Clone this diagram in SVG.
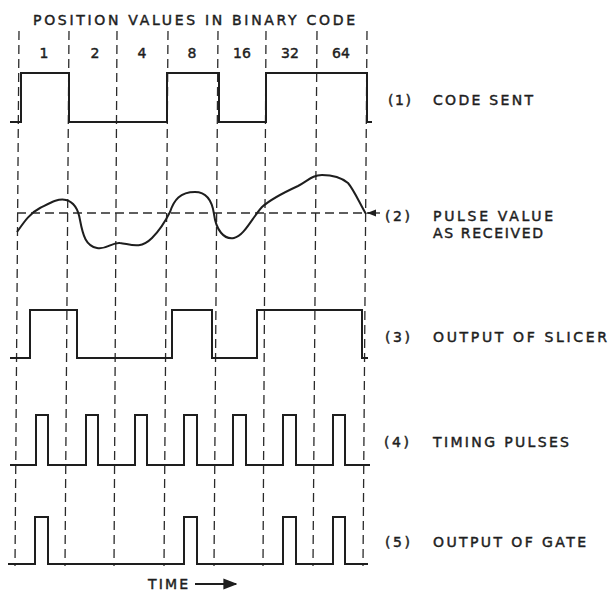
<svg xmlns="http://www.w3.org/2000/svg" width="609" height="591" viewBox="0 0 609 591">
<defs>
<style>
.grid{stroke:#2a2a2a;stroke-width:1.3;stroke-dasharray:9 5;fill:none}
.sig{stroke:#1e1e1e;stroke-width:2;fill:none;stroke-linejoin:miter}
.t{font-family:"DejaVu Sans","Liberation Sans",sans-serif;font-size:14px;fill:#1e1e1e;stroke:#1e1e1e;stroke-width:0.45px}
.n{font-family:"DejaVu Sans","Liberation Sans",sans-serif;font-size:14px;fill:#1e1e1e;stroke:#1e1e1e;stroke-width:0.45px;text-anchor:middle}
</style>
<marker id="ah" viewBox="0 0 10 10" refX="9" refY="5" markerWidth="7" markerHeight="7" orient="auto"><path d="M0,1 L10,5 L0,9 Z" fill="#1e1e1e"/></marker>
</defs>
<rect width="609" height="591" fill="#fff"/>
<g id="header">
<text class="t" x="33" y="25" textLength="322" lengthAdjust="spacing">POSITION VALUES IN BINARY CODE</text>
<text class="n" x="44" y="58">1</text>
<text class="n" x="95" y="58">2</text>
<text class="n" x="142" y="58">4</text>
<text class="n" x="192" y="58">8</text>
<text class="n" x="242" y="58">16</text>
<text class="n" x="290" y="58">32</text>
<text class="n" x="341" y="58">64</text>
</g>
<g id="connectors">
<line class="grid" x1="19" y1="31" x2="15" y2="566"/>
<line class="grid" x1="69" y1="31" x2="65" y2="566"/>
<line class="grid" x1="117" y1="31" x2="114" y2="566"/>
<line class="grid" x1="168" y1="31" x2="164" y2="566"/>
<line class="grid" x1="218" y1="31" x2="214" y2="566"/>
<line class="grid" x1="266" y1="31" x2="263" y2="566"/>
<line class="grid" x1="317" y1="31" x2="313" y2="566"/>
<line class="grid" x1="367" y1="31" x2="363" y2="566"/>
<line class="grid" x1="17" y1="213" x2="378" y2="213"/>
<path d="M380,213 L368,213" fill="none" stroke="#1e1e1e" stroke-width="1.3" marker-end="url(#ah)"/>
</g>
<g id="code-sent">
<path class="sig" d="M10,122 H21 V73 H69 V122 H167 V73 H219 V122 H266 V73 H367 V122 H372"/>
<text class="t" x="388" y="105" textLength="23" lengthAdjust="spacing">(1)</text>
<text class="t" x="433" y="105" textLength="100" lengthAdjust="spacing">CODE SENT</text>
</g>
<g id="pulse-value">
<path class="sig" d="M17,232 C24,222 30,213 40,208 C50,203 58,198 66,200 C74,202 78,208 80,220 C83,236 86,246 97,248 C107,250 112,242 120,243 C130,244 140,250 152,238 C160,230 165,222 170,212 C174,200 180,192 195,192 C206,192 212,200 214,214 C216,230 224,240 234,238 C244,236 252,218 262,207 C272,198 285,192 298,186 C308,181 312,175 322,175 C333,175 342,178 348,183 C354,190 360,204 366,214"/>
<text class="t" x="385" y="221" textLength="25" lengthAdjust="spacing">(2)</text>
<text class="t" x="433" y="221" textLength="120" lengthAdjust="spacing">PULSE VALUE</text>
<text class="t" x="433" y="238" textLength="110" lengthAdjust="spacing">AS RECEIVED</text>
</g>
<g id="slicer">
<path class="sig" d="M10,358 H30 V310 H77 V358 H172 V310 H212 V358 H257 V310 H362 V358 H368"/>
<text class="t" x="385" y="342" textLength="25" lengthAdjust="spacing">(3)</text>
<text class="t" x="433" y="342" textLength="174" lengthAdjust="spacing">OUTPUT OF SLICER</text>
</g>
<g id="timing">
<path class="sig" d="M10,465 H36 V415 H48 V465 H86 V415 H98 V465 H135 V415 H147 V465 H184 V415 H197 V465 H233 V415 H246 V465 H283 V415 H296 V465 H333 V415 H345 V465 H370"/>
<text class="t" x="384" y="447" textLength="25" lengthAdjust="spacing">(4)</text>
<text class="t" x="433" y="447" textLength="136" lengthAdjust="spacing">TIMING PULSES</text>
</g>
<g id="gate">
<path class="sig" d="M8,564 H35 V517 H48 V564 H184 V517 H197 V564 H283 V517 H296 V564 H333 V517 H345 V564 H368"/>
<text class="t" x="385" y="547" textLength="25" lengthAdjust="spacing">(5)</text>
<text class="t" x="433" y="547" textLength="153" lengthAdjust="spacing">OUTPUT OF GATE</text>
</g>
<g id="time-axis">
<text class="t" x="148" y="589" textLength="40" lengthAdjust="spacing">TIME</text>
<path d="M195,584 H236" stroke="#1e1e1e" stroke-width="2" fill="none" marker-end="url(#ah)"/>
</g>
</svg>
